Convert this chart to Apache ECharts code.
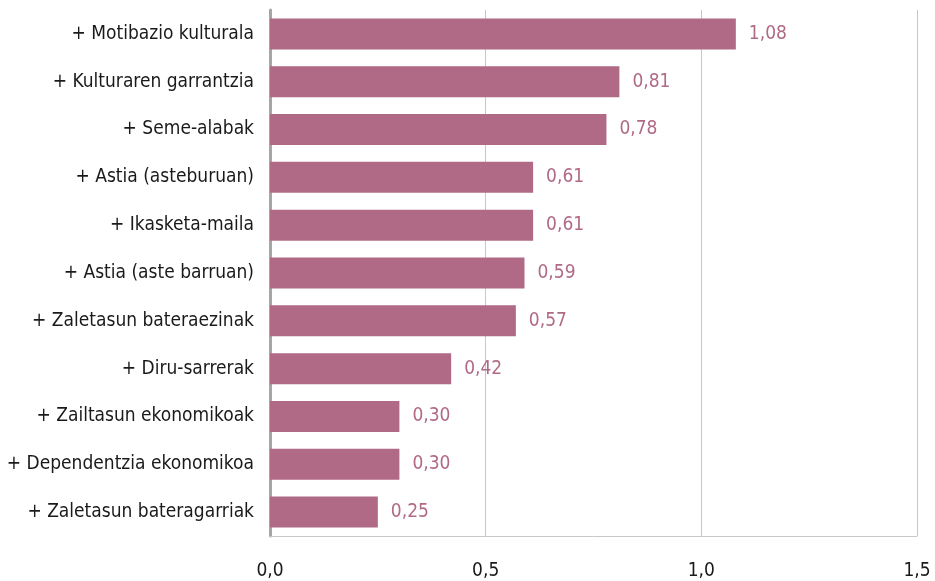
<!DOCTYPE html>
<html>
<head>
<meta charset="utf-8">
<script src="https://cdn.jsdelivr.net/npm/echarts@6/dist/echarts.min.js"></script>
<style>
html, body { margin: 0; padding: 0; background: #fff; }
#chart { width: 935px; height: 581px; }
</style>
</head>
<body>
<div id="chart"></div>
<script>
const categories = [
    '+ Motibazio kulturala',
    '+ Kulturaren garrantzia',
    '+ Seme-alabak',
    '+ Astia (asteburuan)',
    '+ Ikasketa-maila',
    '+ Astia (aste barruan)',
    '+ Zaletasun bateraezinak',
    '+ Diru-sarrerak',
    '+ Zailtasun ekonomikoak',
    '+ Dependentzia ekonomikoa',
    '+ Zaletasun bateragarriak'
];
const values = [1.08, 0.81, 0.78, 0.61, 0.61, 0.59, 0.57, 0.42, 0.30, 0.30, 0.25];
const xTicks = [0, 0.5, 1.0, 1.5];

const font = '"DejaVu Sans Condensed", sans-serif';
const barColor = '#b06a86';

const chart = echarts.init(document.getElementById('chart'));
chart.setOption({
    animation: false,
    grid: { left: 270, right: 18, top: 10, bottom: 45, containLabel: false, outerBoundsMode: 'none' },
    xAxis: {
        type: 'value',
        min: xTicks[0],
        max: xTicks[xTicks.length - 1],
        interval: 0.5,
        axisLine: { show: true, lineStyle: { color: '#c8c8c8', width: 1 } },
        axisTick: { show: false },
        splitLine: { show: true, lineStyle: { color: '#c8c8c8', width: 1 } },
        axisLabel: {
            margin: 26,
            fontFamily: font,
            fontSize: 19,
            color: '#1a1a1a',
            formatter: v => v.toFixed(1).replace('.', ',')
        }
    },
    yAxis: {
        type: 'category',
        data: categories,
        inverse: true,
        axisLine: { show: true, lineStyle: { color: '#a6a6a6', width: 3 } },
        axisTick: { show: false },
        axisLabel: {
            margin: 16,
            fontFamily: font,
            fontSize: 19,
            color: '#1a1a1a'
        }
    },
    series: [{
        type: 'bar',
        data: values,
        barWidth: 31,
        itemStyle: { color: barColor },
        label: {
            show: true,
            position: 'right',
            distance: 13,
            fontFamily: font,
            fontSize: 19,
            color: barColor,
            formatter: p => p.value.toFixed(2).replace('.', ',')
        }
    }]
});
</script>
</body>
</html>
